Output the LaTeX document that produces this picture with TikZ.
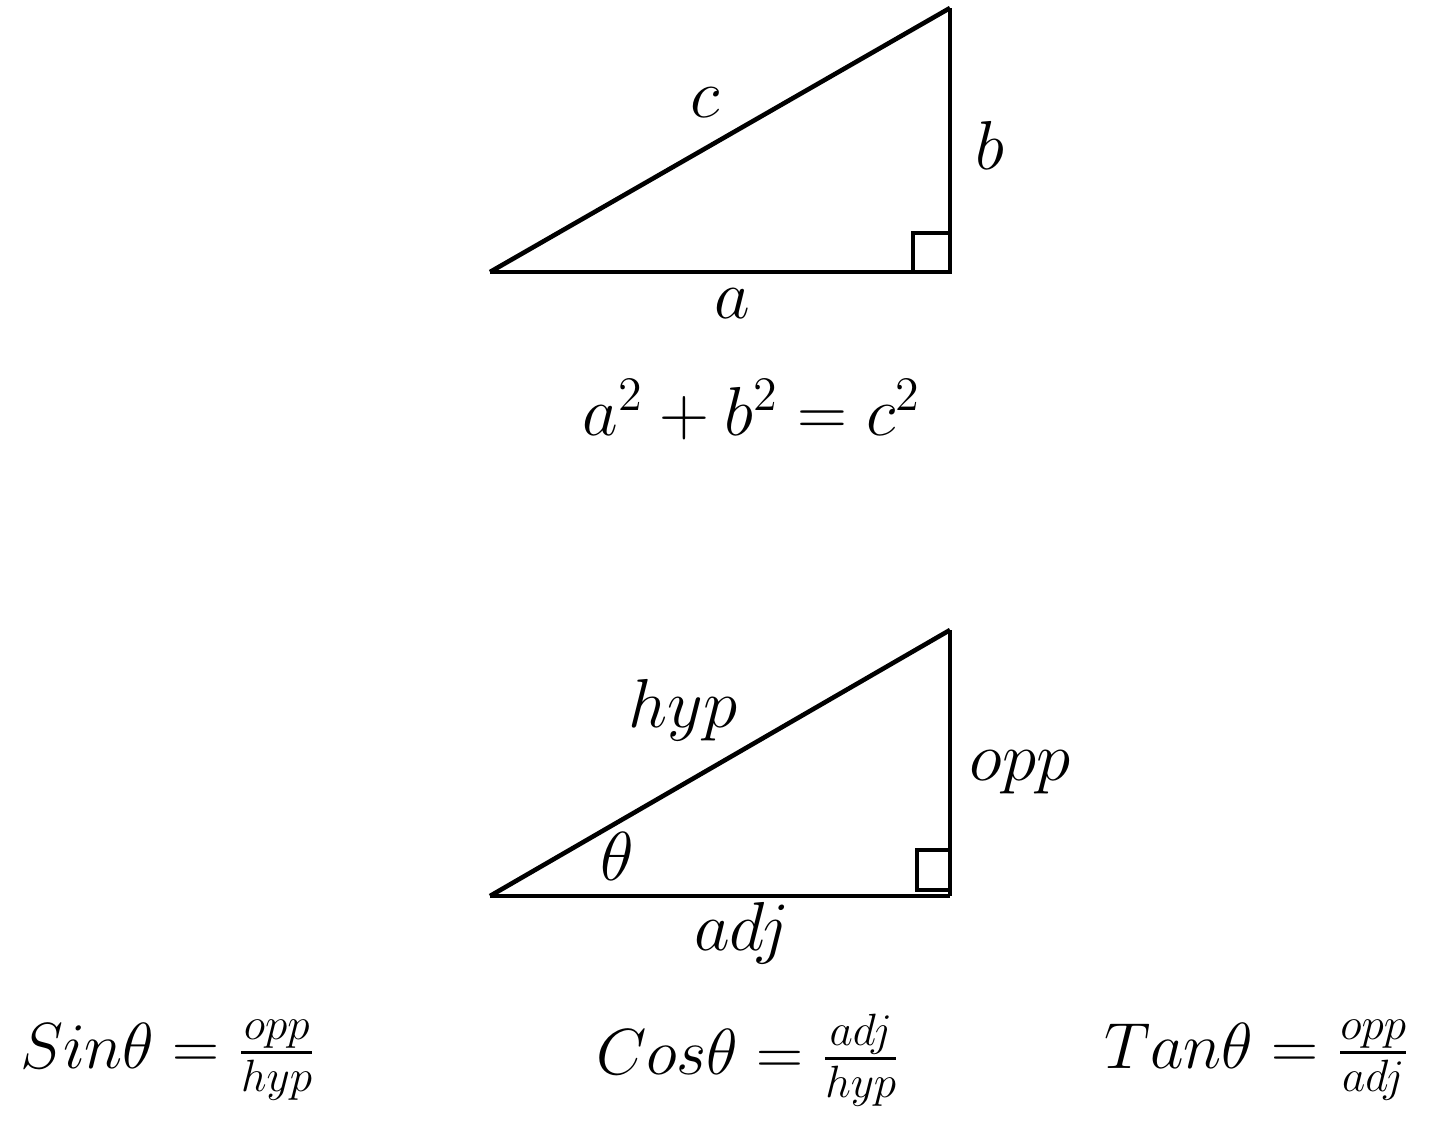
\documentclass[tikz,border=0pt]{standalone}
\usepackage{amssymb, amsmath}
\usepackage{tikz}

\begin{document}
\begin{tikzpicture}%[x=0.01cm,y=-0.01cm]
  [x=0.01cm, y=-0.01cm, line width=1.3pt,
   every node/.style={font=\huge, scale=0.95}]

\useasboundingbox (0,0) rectangle (1440,1143);

%%%  top triangle

% corners
\coordinate (p) at (490,272);
\coordinate (q) at (950,272);
\coordinate (r) at (950,8);

% sides
\draw (p) to (q);
\draw (q) to (r);
\draw (r) to (p);

% right angle
\draw (913,272) rectangle (950,233);

% labels
\node (c) at (705,103) {$c$};
\node (b) at (990,145) {$b$};
\node (a) at (732,304) {$a$};

% pythagoras
\node (pyth) at (752,410) {$a^2 + b^2 = c^2$};

%%%  bottom triangle

% corners
\coordinate (s) at (490,896);
\coordinate (t) at (950,896);
\coordinate (u) at (950,630);

% sides
\draw (s) to (t);
\draw (t) to (u);
\draw (u) to (s);

% right angle
\draw (917,890) rectangle (950,850);

% labels
\node (hyp) at (683,710) {$hyp$};
\node (opp) at (1020,772) {$opp$};
\node (theta) at (617,856) {$\theta$};
\node (adj) at (742,933) {$adj$};

%%%  ratios
\node [scale=0.94] (sin) at (168,1060) {$Sin\theta = \frac{opp}{hyp}$};
\node [scale=0.94] (cos) at (748,1060) {$Cos\theta = \frac{adj}{hyp}$};
\node [scale=0.94] (tan) at (1257,1060) {$Tan\theta = \frac{opp}{adj}$};

\end{tikzpicture}
\end{document}
